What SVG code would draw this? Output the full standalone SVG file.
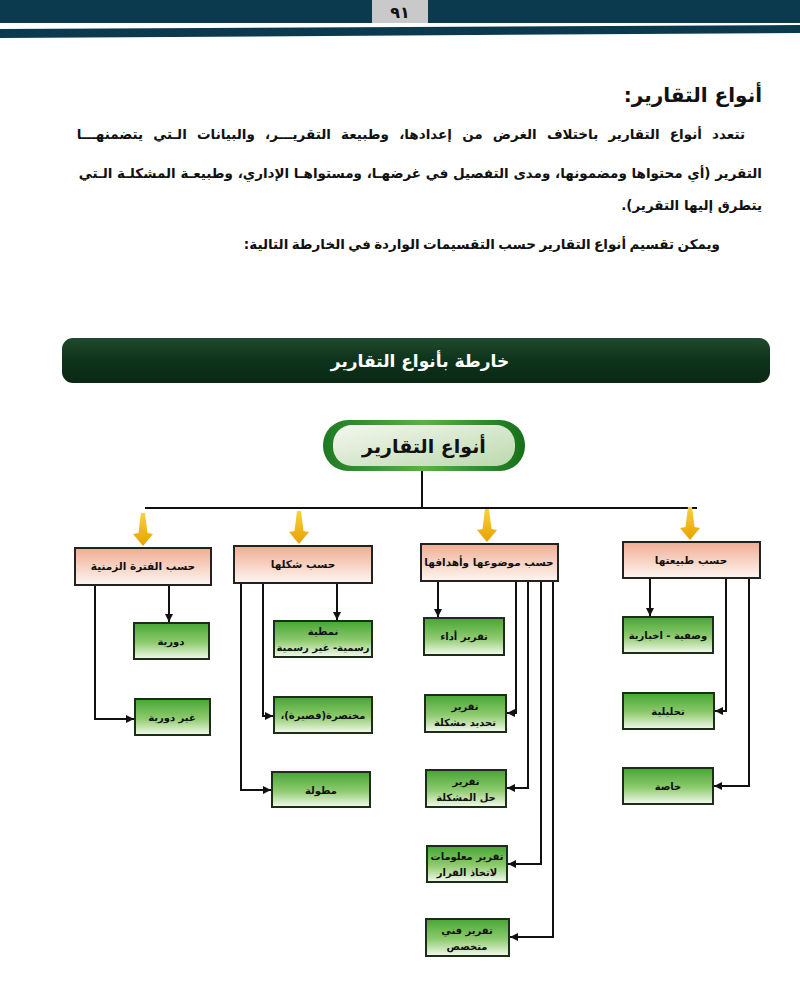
<svg xmlns="http://www.w3.org/2000/svg" width="800" height="1000" viewBox="0 0 800 1000">
<defs>
<style>
.ar{font-family:"DejaVu Sans",sans-serif;font-weight:bold;fill:#111;direction:rtl;}
.para{font-size:13.5px;}
.cat{font-size:10.5px;}
.leaf{font-size:10px;fill:#111;}
.catbox{fill:url(#gCat);stroke:#222;stroke-width:2;}
.leafbox{fill:url(#gLeaf);stroke:#1c2e18;stroke-width:2;}
.ln{fill:none;stroke:#111;stroke-width:2;}
.la{fill:none;stroke:#111;stroke-width:2;marker-end:url(#ah);}
</style>
<linearGradient id="gCat" x1="0" y1="0" x2="0" y2="1">
<stop offset="0" stop-color="#f0ad92"/><stop offset="1" stop-color="#fdf6f2"/>
</linearGradient>
<linearGradient id="gLeaf" x1="0" y1="0" x2="0" y2="1">
<stop offset="0" stop-color="#45a533"/><stop offset="0.55" stop-color="#8fcb6f"/><stop offset="1" stop-color="#f4faef"/>
</linearGradient>
<linearGradient id="gBanner" x1="0" y1="0" x2="0" y2="1">
<stop offset="0" stop-color="#1f4a2c"/><stop offset="0.5" stop-color="#0e331b"/><stop offset="1" stop-color="#0a2814"/>
</linearGradient>
<linearGradient id="gPillOuter" x1="0" y1="0" x2="1" y2="0">
<stop offset="0" stop-color="#1d7a22"/><stop offset="0.5" stop-color="#5fae4a"/><stop offset="1" stop-color="#157019"/>
</linearGradient>
<linearGradient id="gPillInner" x1="0" y1="0" x2="1" y2="1">
<stop offset="0" stop-color="#f4f7f0"/><stop offset="1" stop-color="#bcd9ad"/>
</linearGradient>
<linearGradient id="gYel" x1="0" y1="0" x2="0" y2="1">
<stop offset="0" stop-color="#f7d23a"/><stop offset="1" stop-color="#e9a000"/>
</linearGradient>
<path id="yArrow" d="M-2,0 L2,0 L4.5,20 L10,21 L0,33 L-10,21 L-4.5,20 Z" fill="url(#gYel)"/>
<marker id="ah" markerWidth="9" markerHeight="9" refX="8" refY="4" orient="auto" markerUnits="userSpaceOnUse">
<path d="M0,0 L8,4 L0,8 Z" fill="#111"/>
</marker>
</defs>

<rect width="800" height="1000" fill="#ffffff"/>

<!-- page header -->
<g id="header">
<rect x="0" y="0" width="800" height="23" fill="#0b3a4f"/>
<polygon points="0,29 800,25 800,33 0,38" fill="#0b3a4f"/>
<rect x="372" y="0" width="56" height="23" fill="#c9c9c9"/>
<text x="400" y="18" class="ar" font-size="16" text-anchor="middle">٩١</text>
</g>

<!-- intro text -->
<g id="intro">
<text x="762" y="102" class="ar" font-size="20" text-anchor="start">أنواع التقارير:</text>
<text x="745" y="139" class="ar para" text-anchor="start" word-spacing="5.5">تتعدد أنواع التقارير باختلاف الغرض من إعدادها، وطبيعة التقريـــر، والبيانات الـتي يتضمنهـــا</text>
<text x="762" y="178" class="ar para" text-anchor="start">التقرير (أي محتواها ومضمونها، ومدى التفصيل في غرضهـا، ومستواهـا الإداري، وطبيعـة المشكلـة الـتي</text>
<text x="762" y="210" class="ar para" text-anchor="start">يتطرق إليها التقرير).</text>
<text x="720" y="249" class="ar para" text-anchor="start" word-spacing="-1.3">ويمكن تقسيم أنواع التقارير حسب التقسيمات الواردة في الخارطة التالية:</text>
</g>

<!-- banner -->
<g id="banner">
<rect x="62" y="338" width="708" height="45" rx="11" fill="url(#gBanner)"/>
<text x="420" y="367" class="ar" font-size="17" style="fill:#ffffff" text-anchor="middle">خارطة بأنواع التقارير</text>
</g>

<!-- connectors -->
<g id="connectors">
<path class="ln" d="M422,471 V508 M145,508 H697"/>
<use href="#yArrow" x="143" y="513"/>
<use href="#yArrow" x="299" y="511"/>
<use href="#yArrow" x="487" y="509"/>
<use href="#yArrow" x="690" y="507"/>
<path class="la" d="M169,585 V622"/>
<path class="la" d="M95,585 V719 H134"/>
<path class="la" d="M337,583 V620"/>
<path class="la" d="M263,583 V716 H273"/>
<path class="la" d="M241,583 V790 H271"/>
<path class="la" d="M438,581 V617"/>
<path class="la" d="M516,581 V713 H507"/>
<path class="la" d="M528,581 V788 H507"/>
<path class="la" d="M541,581 V864 H508"/>
<path class="la" d="M553,581 V937 H510"/>
<path class="la" d="M650,578 V616"/>
<path class="la" d="M726,578 V711 H715"/>
<path class="la" d="M749,578 V786 H714"/>
</g>

<!-- root -->
<g id="root">
<rect x="323" y="420" width="202" height="51" rx="25" fill="url(#gPillOuter)"/>
<rect x="333" y="425" width="182" height="41" rx="19" fill="url(#gPillInner)"/>
<text x="424" y="453" class="ar" font-size="19" text-anchor="middle">أنواع التقارير</text>
</g>

<!-- categories -->
<g id="cat1">
<rect x="75" y="548" width="136" height="37" class="catbox"/>
<text x="143" y="570" class="ar cat" text-anchor="middle">حسب الفترة الزمنية</text>
</g>
<g id="cat2">
<rect x="234" y="546" width="138" height="37" class="catbox"/>
<text x="303" y="568" class="ar cat" text-anchor="middle">حسب شكلها</text>
</g>
<g id="cat3">
<rect x="421" y="544" width="137" height="37" class="catbox"/>
<text x="489" y="566" class="ar cat" text-anchor="middle">حسب موضوعها وأهدافها</text>
</g>
<g id="cat4">
<rect x="623" y="542" width="137" height="36" class="catbox"/>
<text x="691" y="564" class="ar cat" text-anchor="middle">حسب طبيعتها</text>
</g>

<!-- leaves cat1 -->
<g id="l1a">
<rect x="134" y="623" width="75" height="36" class="leafbox"/>
<text x="171" y="645" class="ar leaf" text-anchor="middle">دورية</text>
</g>
<g id="l1b">
<rect x="135" y="699" width="75" height="36" class="leafbox"/>
<text x="172" y="721" class="ar leaf" text-anchor="middle">غير دورية</text>
</g>

<!-- leaves cat2 -->
<g id="l2a">
<rect x="274" y="621" width="98" height="36" class="leafbox"/>
<text x="323" y="635" class="ar leaf" text-anchor="middle">نمطية</text>
<text x="323" y="651" class="ar leaf" text-anchor="middle">رسمية- غير رسمية</text>
</g>
<g id="l2b">
<rect x="274" y="697" width="98" height="36" class="leafbox"/>
<text x="323" y="719" class="ar leaf" text-anchor="middle">مختصرة(قصيرة)،</text>
</g>
<g id="l2c">
<rect x="272" y="772" width="98" height="35" class="leafbox"/>
<text x="321" y="794" class="ar leaf" text-anchor="middle">مطولة</text>
</g>

<!-- leaves cat3 -->
<g id="l3a">
<rect x="424" y="618" width="80" height="37" class="leafbox"/>
<text x="464" y="640" class="ar leaf" text-anchor="middle">تقرير أداء</text>
</g>
<g id="l3b">
<rect x="425" y="695" width="81" height="37" class="leafbox"/>
<text x="465" y="710" class="ar leaf" text-anchor="middle">تقرير</text>
<text x="465" y="726" class="ar leaf" text-anchor="middle">تحديد مشكلة</text>
</g>
<g id="l3c">
<rect x="426" y="770" width="80" height="37" class="leafbox"/>
<text x="466" y="785" class="ar leaf" text-anchor="middle">تقرير</text>
<text x="466" y="801" class="ar leaf" text-anchor="middle">حل المشكلة</text>
</g>
<g id="l3d">
<rect x="427" y="846" width="80" height="36" class="leafbox"/>
<text x="467" y="860" class="ar leaf" text-anchor="middle">تقرير معلومات</text>
<text x="467" y="876" class="ar leaf" text-anchor="middle">لاتخاذ القرار</text>
</g>
<g id="l3e">
<rect x="426" y="919" width="83" height="37" class="leafbox"/>
<text x="467" y="934" class="ar leaf" text-anchor="middle">تقرير فني</text>
<text x="467" y="950" class="ar leaf" text-anchor="middle">متخصص</text>
</g>

<!-- leaves cat4 -->
<g id="l4a">
<rect x="623" y="617" width="90" height="36" class="leafbox"/>
<text x="668" y="639" class="ar leaf" text-anchor="middle">وصفية - اخبارية</text>
</g>
<g id="l4b">
<rect x="623" y="693" width="91" height="36" class="leafbox"/>
<text x="668" y="715" class="ar leaf" text-anchor="middle">تحليلية</text>
</g>
<g id="l4c">
<rect x="623" y="768" width="90" height="36" class="leafbox"/>
<text x="668" y="790" class="ar leaf" text-anchor="middle">خاصة</text>
</g>
</svg>
